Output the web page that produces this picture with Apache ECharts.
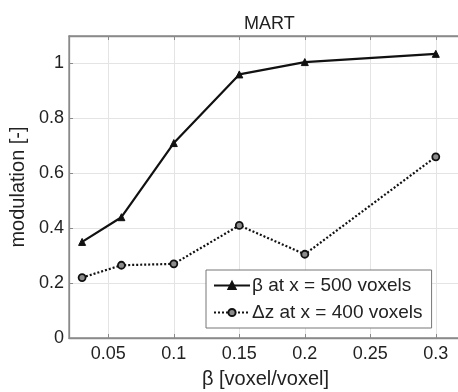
<!DOCTYPE html>
<html>
<head>
<meta charset="utf-8">
<style>
  html, body { margin: 0; padding: 0; background: #fff; }
  #chart { width: 458px; height: 392px; }
</style>
<script src="https://cdn.jsdelivr.net/npm/echarts@6/dist/echarts.min.js"></script>
</head>
<body>
<div id="chart"></div>
<script>
// Step size beta [voxel/voxel] and measured modulation
const betaValues = [0.03, 0.06, 0.1, 0.15, 0.2, 0.3];
const modBetaX500 = [0.35, 0.44, 0.71, 0.96, 1.005, 1.035];
const modDzX400 = [0.22, 0.265, 0.27, 0.41, 0.305, 0.66];

const xTickValues = [0.05, 0.1, 0.15, 0.2, 0.25, 0.3];
const yTickValues = [0, 0.2, 0.4, 0.6, 0.8, 1];

const seriesNames = ['β at x = 500 voxels', 'Δz at x = 400 voxels'];

const FONT = '"Liberation Sans", Arial, Helvetica, sans-serif';
const AXIS_GRAY = '#8a8a8a';
const GRID_GRAY = '#e4e4e4';

const pairs = (xs, ys) => xs.map((x, i) => [x, ys[i]]);

const chart = echarts.init(document.getElementById('chart'), null, { renderer: 'canvas' });

chart.setOption({
  animation: false,
  backgroundColor: '#fff',
  textStyle: { fontFamily: FONT },
  title: {
    text: 'MART',
    left: 239,
    top: 10,
    textStyle: { fontFamily: FONT, fontSize: 18, fontWeight: 'normal', color: '#222' }
  },
  grid: {
    left: 69,
    top: 36,
    width: 393,
    bottom: 54,
    outerBoundsMode: 'none',
    containLabel: false,
    show: true,
    borderColor: AXIS_GRAY,
    borderWidth: 1.3,
    backgroundColor: '#fff'
  },
  legend: {
    orient: 'vertical',
    left: 206,
    top: 270,
    padding: [6, 9, 6, 7],
    itemWidth: 36,
    itemHeight: 9,
    itemGap: 8,
    backgroundColor: '#fff',
    borderColor: '#777',
    borderWidth: 1,
    textStyle: { fontFamily: FONT, fontSize: 19, color: '#222', padding: [0, 0, 0, -3] },
    data: seriesNames
  },
  xAxis: [{
    type: 'value',
    min: 0.02,
    max: 0.32,
    name: 'β [voxel/voxel]',
    nameLocation: 'middle',
    nameGap: 31,
    nameTextStyle: { fontFamily: FONT, fontSize: 20, color: '#222' },
    axisLine: { show: true, lineStyle: { color: AXIS_GRAY, width: 1.3 } },
    axisTick: { show: true, inside: true, length: 4, customValues: xTickValues, lineStyle: { color: AXIS_GRAY } },
    axisLabel: {
      customValues: xTickValues,
      margin: 7,
      fontFamily: FONT, fontSize: 18, color: '#222',
      formatter: v => String(+v.toFixed(2))
    },
    splitLine: { show: true, lineStyle: { color: GRID_GRAY, width: 1 } }
  }, {
    type: 'value',
    position: 'top',
    min: 0.02,
    max: 0.32,
    axisLine: { show: true, lineStyle: { color: AXIS_GRAY, width: 1.3 } },
    axisTick: { show: true, inside: true, length: 4, customValues: xTickValues, lineStyle: { color: AXIS_GRAY } },
    axisLabel: { show: false },
    splitLine: { show: false }
  }],
  yAxis: {
    type: 'value',
    min: 0,
    max: 1.1,
    name: 'modulation [-]',
    nameLocation: 'middle',
    nameGap: 40,
    nameTextStyle: { fontFamily: FONT, fontSize: 20, color: '#222' },
    axisLine: { show: true, lineStyle: { color: AXIS_GRAY, width: 1.3 } },
    axisTick: { show: true, inside: true, length: 4, customValues: yTickValues, lineStyle: { color: AXIS_GRAY } },
    axisLabel: {
      customValues: yTickValues,
      margin: 5,
      fontFamily: FONT, fontSize: 18, color: '#222',
      formatter: v => String(+v.toFixed(1))
    },
    splitLine: { show: true, lineStyle: { color: GRID_GRAY, width: 1 } }
  },
  series: [{
    name: seriesNames[0],
    type: 'line',
    data: pairs(betaValues, modBetaX500),
    symbol: 'triangle',
    symbolSize: 7,
    showAllSymbol: true,
    lineStyle: { color: '#111', width: 2.2, type: 'solid' },
    itemStyle: { color: '#111', borderColor: '#111', borderWidth: 1 },
    z: 3
  }, {
    name: seriesNames[1],
    type: 'line',
    data: pairs(betaValues, modDzX400),
    symbol: 'circle',
    symbolSize: 7,
    showAllSymbol: true,
    lineStyle: { color: '#111', width: 2.2, type: [2, 2] },
    itemStyle: { color: '#8c8c8c', borderColor: '#111', borderWidth: 1.8 },
    z: 3
  }]
});
</script>
</body>
</html>
